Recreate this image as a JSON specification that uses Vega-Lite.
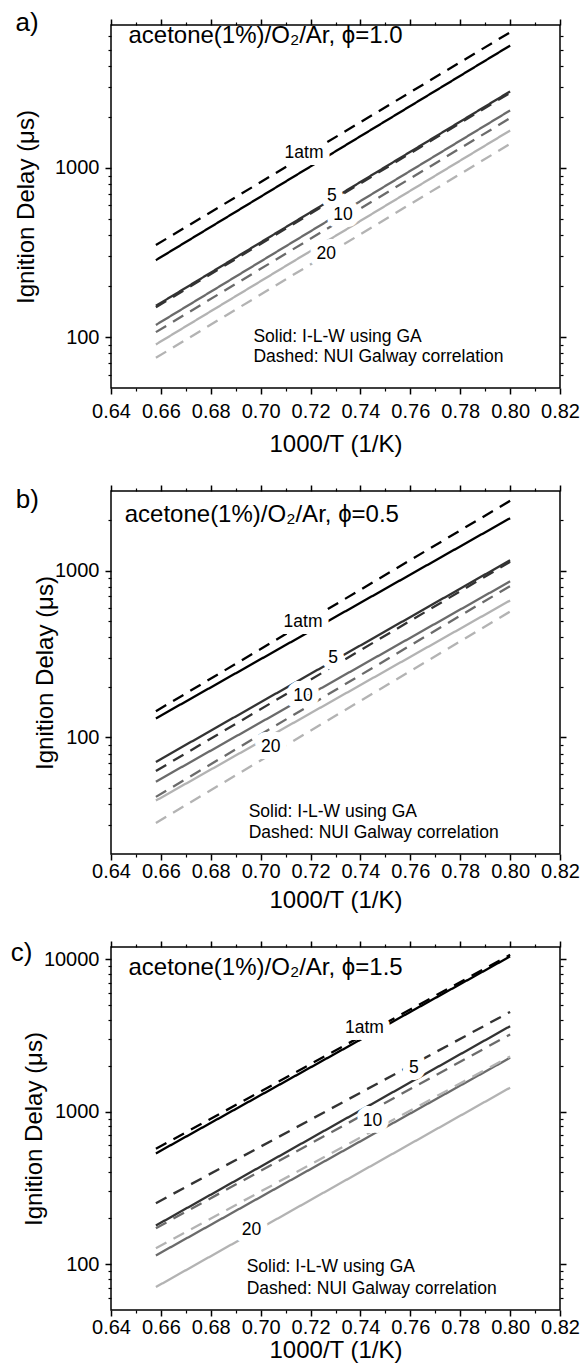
{
  "$schema": "https://vega.github.io/schema/vega-lite/v6.json",
  "padding": {"top": 9, "left": 9, "right": 0, "bottom": 0},
  "spacing": 26,
  "config": {
    "view": {"stroke": "black", "strokeWidth": 1.5},
    "axis": {"domain": false, "grid": false, "ticks": true, "tickColor": "black", "tickWidth": 1.5, "tickSize": 6,
             "labelFont": "Liberation Sans", "labelFontSize": 20, "labelColor": "black", "labelPadding": 6,
             "labelOverlap": false, "labelFlush": false, "labelBound": false,
             "titleFont": "Liberation Sans", "titleFontSize": 24, "titleFontWeight": "normal", "titleColor": "black"},
    "text": {"font": "Liberation Sans", "color": "black"}
  },
  "datasets": {
    "a_lines": [
      {"x":0.658,"y":350,"P":"1","model":"NUIG"},{"x":0.80,"y":6340,"P":"1","model":"NUIG"},
      {"x":0.658,"y":285,"P":"1","model":"ILW"},{"x":0.80,"y":5290,"P":"1","model":"ILW"},
      {"x":0.658,"y":153,"P":"5","model":"ILW"},{"x":0.80,"y":2835,"P":"5","model":"ILW"},
      {"x":0.658,"y":150,"P":"5","model":"NUIG"},{"x":0.80,"y":2780,"P":"5","model":"NUIG"},
      {"x":0.658,"y":118,"P":"10","model":"ILW"},{"x":0.80,"y":2188,"P":"10","model":"ILW"},
      {"x":0.658,"y":107,"P":"10","model":"NUIG"},{"x":0.80,"y":1970,"P":"10","model":"NUIG"},
      {"x":0.658,"y":90.5,"P":"20","model":"ILW"},{"x":0.80,"y":1665,"P":"20","model":"ILW"},
      {"x":0.658,"y":75.4,"P":"20","model":"NUIG"},{"x":0.80,"y":1388,"P":"20","model":"NUIG"}
    ],
    "a_labels": [{"x":0.7174,"y":1222,"text":"1atm"},{"x":0.7285,"y":682,"text":"5"},{"x":0.7330,"y":526,"text":"10"},{"x":0.7263,"y":309,"text":"20"}],
    "a_notes": [{"x":0.6971,"y":100,"text":"Solid: I-L-W using GA"},{"x":0.6971,"y":76.1,"text":"Dashed: NUI Galway correlation"}],
    "a_head": [{"x":0.647,"y":6010,"text":"acetone(1%)/O₂/Ar, ϕ=1.0"}],
    "a_tag": [{"x":0.6017,"y":7163,"text":"a)"}],
    "b_lines": [
      {"x":0.658,"y":143.5,"P":"1","model":"NUIG"},{"x":0.80,"y":2621,"P":"1","model":"NUIG"},
      {"x":0.658,"y":130,"P":"1","model":"ILW"},{"x":0.80,"y":2061,"P":"1","model":"ILW"},
      {"x":0.658,"y":71.3,"P":"5","model":"ILW"},{"x":0.80,"y":1154,"P":"5","model":"ILW"},
      {"x":0.658,"y":62.9,"P":"5","model":"NUIG"},{"x":0.80,"y":1128,"P":"5","model":"NUIG"},
      {"x":0.658,"y":54.3,"P":"10","model":"ILW"},{"x":0.80,"y":862,"P":"10","model":"ILW"},
      {"x":0.658,"y":44,"P":"10","model":"NUIG"},{"x":0.80,"y":808,"P":"10","model":"NUIG"},
      {"x":0.658,"y":41.8,"P":"20","model":"ILW"},{"x":0.80,"y":662,"P":"20","model":"ILW"},
      {"x":0.658,"y":30.7,"P":"20","model":"NUIG"},{"x":0.80,"y":568,"P":"20","model":"NUIG"}
    ],
    "b_labels": [{"x":0.717,"y":494,"text":"1atm"},{"x":0.729,"y":301,"text":"5"},{"x":0.717,"y":177,"text":"10"},{"x":0.704,"y":87,"text":"20"}],
    "b_notes": [{"x":0.6952,"y":35.6,"text":"Solid: I-L-W using GA"},{"x":0.6952,"y":26.7,"text":"Dashed: NUI Galway correlation"}],
    "b_head": [{"x":0.6455,"y":2158,"text":"acetone(1%)/O₂/Ar, ϕ=0.5"}],
    "b_tag": [{"x":0.6018,"y":2650,"text":"b)"}],
    "c_lines": [
      {"x":0.658,"y":532,"P":"1","model":"ILW"},{"x":0.80,"y":10410,"P":"1","model":"ILW"},
      {"x":0.658,"y":570,"P":"1","model":"NUIG"},{"x":0.80,"y":10670,"P":"1","model":"NUIG"},
      {"x":0.658,"y":251,"P":"5","model":"NUIG"},{"x":0.80,"y":4504,"P":"5","model":"NUIG"},
      {"x":0.658,"y":179,"P":"5","model":"ILW"},{"x":0.80,"y":3631,"P":"5","model":"ILW"},
      {"x":0.658,"y":172,"P":"10","model":"NUIG"},{"x":0.80,"y":3203,"P":"10","model":"NUIG"},
      {"x":0.658,"y":114,"P":"10","model":"ILW"},{"x":0.80,"y":2254,"P":"10","model":"ILW"},
      {"x":0.658,"y":127,"P":"20","model":"NUIG"},{"x":0.80,"y":2300,"P":"20","model":"NUIG"},
      {"x":0.658,"y":70.7,"P":"20","model":"ILW"},{"x":0.80,"y":1435,"P":"20","model":"ILW"}
    ],
    "c_labels": [{"x":0.7416,"y":3540,"text":"1atm"},{"x":0.7614,"y":1919,"text":"5"},{"x":0.7448,"y":869,"text":"10"},{"x":0.6963,"y":167.6,"text":"20"}],
    "c_notes": [{"x":0.6944,"y":95.6,"text":"Solid: I-L-W using GA"},{"x":0.6944,"y":69,"text":"Dashed: NUI Galway correlation"}],
    "c_head": [{"x":0.647,"y":8730,"text":"acetone(1%)/O₂/Ar, ϕ=1.5"}],
    "c_tag": [{"x":0.5998,"y":10950,"text":"c)"}]
  },
  "vconcat": [
    {
      "width": 449, "height": 363,
      "resolve": {"axis": {"x": "independent", "y": "independent"}},
      "layer": [
        {"data": {"name": "a_lines"},
         "mark": {"type": "line", "strokeWidth": 2.3},
         "encoding": {
           "x": {"field": "x", "type": "quantitative", "scale": {"domain": [0.64, 0.82], "nice": false, "zero": false},
                 "axis": {"orient": "bottom", "values": [0.64,0.66,0.68,0.70,0.72,0.74,0.76,0.78,0.80,0.82], "format": ".2f", "title": "1000/T (1/K)", "labelPadding": 7, "titleY": 56, "titleBaseline": "middle"}},
           "y": {"field": "y", "type": "quantitative", "scale": {"type": "log", "domain": [50, 7000], "nice": false},
                 "axis": {"orient": "left", "values": [100, 1000], "format": "d", "title": "Ignition Delay (μs)", "titleX": -85, "titleBaseline": "middle"}},
           "color": {"field": "P", "type": "nominal", "scale": {"domain": ["1","5","10","20"], "range": ["#000000","#333333","#6b6b6b","#b3b3b3"]}, "legend": null},
           "strokeDash": {"field": "model", "type": "nominal", "scale": {"domain": ["ILW","NUIG"], "range": [[1,0],[12,8]]}, "legend": null}
         }},
        {"data": {"name": "a_labels"},
         "mark": {"type": "text", "fontSize": 17.5, "align": "center", "baseline": "middle", "fill": "white", "stroke": "white", "strokeWidth": 14, "strokeJoin": "round"},
         "encoding": {
           "x": {"field": "x", "type": "quantitative", "scale": {"domain": [0.64, 0.82], "nice": false, "zero": false},
                 "axis": {"orient": "bottom", "values": [0.65,0.67,0.69,0.71,0.73,0.75,0.77,0.79,0.81], "labels": false, "title": null, "tickSize": 3, "tickWidth": 1.2}},
           "y": {"field": "y", "type": "quantitative", "scale": {"type": "log", "domain": [50, 7000], "nice": false},
                 "axis": {"orient": "left", "values": [60,70,80,90,200,300,400,500,600,700,800,900,2000,3000,4000,5000,6000], "labels": false, "title": null, "tickSize": 3, "tickWidth": 1.2}},
           "text": {"field": "text"}
         }},
        {"data": {"name": "a_labels"},
         "mark": {"type": "text", "fontSize": 17.5, "align": "center", "baseline": "middle"},
         "encoding": {
           "x": {"field": "x", "type": "quantitative", "scale": {"domain": [0.64, 0.82], "nice": false, "zero": false},
                 "axis": {"orient": "top", "values": [0.64,0.66,0.68,0.70,0.72,0.74,0.76,0.78,0.80,0.82], "labels": false, "title": null}},
           "y": {"field": "y", "type": "quantitative", "scale": {"type": "log", "domain": [50, 7000], "nice": false},
                 "axis": {"orient": "right", "values": [100, 1000], "labels": false, "title": null}},
           "text": {"field": "text"}
         }},
        {"data": {"name": "a_notes"},
         "mark": {"type": "text", "fontSize": 17.5, "align": "left", "baseline": "middle"},
         "encoding": {
           "x": {"field": "x", "type": "quantitative", "scale": {"domain": [0.64, 0.82], "nice": false, "zero": false},
                 "axis": {"orient": "top", "values": [0.65,0.67,0.69,0.71,0.73,0.75,0.77,0.79,0.81], "labels": false, "title": null, "tickSize": 3, "tickWidth": 1.2}},
           "y": {"field": "y", "type": "quantitative", "scale": {"type": "log", "domain": [50, 7000], "nice": false},
                 "axis": {"orient": "right", "values": [60,70,80,90,200,300,400,500,600,700,800,900,2000,3000,4000,5000,6000], "labels": false, "title": null, "tickSize": 3, "tickWidth": 1.2}},
           "text": {"field": "text"}
         }},
        {"data": {"name": "a_head"},
         "mark": {"type": "text", "fontSize": 24, "align": "left", "baseline": "middle"},
         "encoding": {
           "x": {"field": "x", "type": "quantitative", "scale": {"domain": [0.64, 0.82], "nice": false, "zero": false}, "axis": null},
           "y": {"field": "y", "type": "quantitative", "scale": {"type": "log", "domain": [50, 7000], "nice": false}, "axis": null},
           "text": {"field": "text"}
         }},
        {"data": {"name": "a_tag"},
         "mark": {"type": "text", "fontSize": 26, "align": "left", "baseline": "middle"},
         "encoding": {
           "x": {"field": "x", "type": "quantitative", "scale": {"domain": [0.64, 0.82], "nice": false, "zero": false}, "axis": null},
           "y": {"field": "y", "type": "quantitative", "scale": {"type": "log", "domain": [50, 7000], "nice": false}, "axis": null},
           "text": {"field": "text"}
         }}
      ]
    },
    {
      "width": 449, "height": 363,
      "resolve": {"axis": {"x": "independent", "y": "independent"}},
      "layer": [
        {"data": {"name": "b_lines"},
         "mark": {"type": "line", "strokeWidth": 2.3},
         "encoding": {
           "x": {"field": "x", "type": "quantitative", "scale": {"domain": [0.64, 0.82], "nice": false, "zero": false},
                 "axis": {"orient": "bottom", "values": [0.64,0.66,0.68,0.70,0.72,0.74,0.76,0.78,0.80,0.82], "format": ".2f", "title": "1000/T (1/K)", "labelPadding": 1, "titleY": 46, "titleBaseline": "middle"}},
           "y": {"field": "y", "type": "quantitative", "scale": {"type": "log", "domain": [20, 3000], "nice": false},
                 "axis": {"orient": "left", "values": [100, 1000], "format": "d", "title": "Ignition Delay (μs)", "titleX": -66, "titleBaseline": "middle"}},
           "color": {"field": "P", "type": "nominal", "scale": {"domain": ["1","5","10","20"], "range": ["#000000","#333333","#6b6b6b","#b3b3b3"]}, "legend": null},
           "strokeDash": {"field": "model", "type": "nominal", "scale": {"domain": ["ILW","NUIG"], "range": [[1,0],[12,8]]}, "legend": null}
         }},
        {"data": {"name": "b_labels"},
         "mark": {"type": "text", "fontSize": 17.5, "align": "center", "baseline": "middle", "fill": "white", "stroke": "white", "strokeWidth": 14, "strokeJoin": "round"},
         "encoding": {
           "x": {"field": "x", "type": "quantitative", "scale": {"domain": [0.64, 0.82], "nice": false, "zero": false},
                 "axis": {"orient": "bottom", "values": [0.65,0.67,0.69,0.71,0.73,0.75,0.77,0.79,0.81], "labels": false, "title": null, "tickSize": 3, "tickWidth": 1.2}},
           "y": {"field": "y", "type": "quantitative", "scale": {"type": "log", "domain": [20, 3000], "nice": false},
                 "axis": {"orient": "left", "values": [30,40,50,60,70,80,90,200,300,400,500,600,700,800,900,2000], "labels": false, "title": null, "tickSize": 3, "tickWidth": 1.2}},
           "text": {"field": "text"}
         }},
        {"data": {"name": "b_labels"},
         "mark": {"type": "text", "fontSize": 17.5, "align": "center", "baseline": "middle"},
         "encoding": {
           "x": {"field": "x", "type": "quantitative", "scale": {"domain": [0.64, 0.82], "nice": false, "zero": false},
                 "axis": {"orient": "top", "values": [0.64,0.66,0.68,0.70,0.72,0.74,0.76,0.78,0.80,0.82], "labels": false, "title": null}},
           "y": {"field": "y", "type": "quantitative", "scale": {"type": "log", "domain": [20, 3000], "nice": false},
                 "axis": {"orient": "right", "values": [100, 1000], "labels": false, "title": null}},
           "text": {"field": "text"}
         }},
        {"data": {"name": "b_notes"},
         "mark": {"type": "text", "fontSize": 17.5, "align": "left", "baseline": "middle"},
         "encoding": {
           "x": {"field": "x", "type": "quantitative", "scale": {"domain": [0.64, 0.82], "nice": false, "zero": false},
                 "axis": {"orient": "top", "values": [0.65,0.67,0.69,0.71,0.73,0.75,0.77,0.79,0.81], "labels": false, "title": null, "tickSize": 3, "tickWidth": 1.2}},
           "y": {"field": "y", "type": "quantitative", "scale": {"type": "log", "domain": [20, 3000], "nice": false},
                 "axis": {"orient": "right", "values": [30,40,50,60,70,80,90,200,300,400,500,600,700,800,900,2000], "labels": false, "title": null, "tickSize": 3, "tickWidth": 1.2}},
           "text": {"field": "text"}
         }},
        {"data": {"name": "b_head"},
         "mark": {"type": "text", "fontSize": 24, "align": "left", "baseline": "middle"},
         "encoding": {
           "x": {"field": "x", "type": "quantitative", "scale": {"domain": [0.64, 0.82], "nice": false, "zero": false}, "axis": null},
           "y": {"field": "y", "type": "quantitative", "scale": {"type": "log", "domain": [20, 3000], "nice": false}, "axis": null},
           "text": {"field": "text"}
         }},
        {"data": {"name": "b_tag"},
         "mark": {"type": "text", "fontSize": 26, "align": "left", "baseline": "middle"},
         "encoding": {
           "x": {"field": "x", "type": "quantitative", "scale": {"domain": [0.64, 0.82], "nice": false, "zero": false}, "axis": null},
           "y": {"field": "y", "type": "quantitative", "scale": {"type": "log", "domain": [20, 3000], "nice": false}, "axis": null},
           "text": {"field": "text"}
         }}
      ]
    },
    {
      "width": 449, "height": 363,
      "resolve": {"axis": {"x": "independent", "y": "independent"}},
      "layer": [
        {"data": {"name": "c_lines"},
         "mark": {"type": "line", "strokeWidth": 2.3},
         "encoding": {
           "x": {"field": "x", "type": "quantitative", "scale": {"domain": [0.64, 0.82], "nice": false, "zero": false},
                 "axis": {"orient": "bottom", "values": [0.64,0.66,0.68,0.70,0.72,0.74,0.76,0.78,0.80,0.82], "format": ".2f", "title": "1000/T (1/K)", "labelPadding": 1, "titleY": 40, "titleBaseline": "middle"}},
           "y": {"field": "y", "type": "quantitative", "scale": {"type": "log", "domain": [50, 12000], "nice": false},
                 "axis": {"orient": "left", "values": [100, 1000, 10000], "format": "d", "title": "Ignition Delay (μs)", "titleX": -77, "titleBaseline": "middle"}},
           "color": {"field": "P", "type": "nominal", "scale": {"domain": ["1","5","10","20"], "range": ["#000000","#333333","#6b6b6b","#b3b3b3"]}, "legend": null},
           "strokeDash": {"field": "model", "type": "nominal", "scale": {"domain": ["ILW","NUIG"], "range": [[1,0],[12,8]]}, "legend": null}
         }},
        {"data": {"name": "c_labels"},
         "mark": {"type": "text", "fontSize": 17.5, "align": "center", "baseline": "middle", "fill": "white", "stroke": "white", "strokeWidth": 14, "strokeJoin": "round"},
         "encoding": {
           "x": {"field": "x", "type": "quantitative", "scale": {"domain": [0.64, 0.82], "nice": false, "zero": false},
                 "axis": {"orient": "bottom", "values": [0.65,0.67,0.69,0.71,0.73,0.75,0.77,0.79,0.81], "labels": false, "title": null, "tickSize": 3, "tickWidth": 1.2}},
           "y": {"field": "y", "type": "quantitative", "scale": {"type": "log", "domain": [50, 12000], "nice": false},
                 "axis": {"orient": "left", "values": [60,70,80,90,200,300,400,500,600,700,800,900,2000,3000,4000,5000,6000,7000,8000,9000], "labels": false, "title": null, "tickSize": 3, "tickWidth": 1.2}},
           "text": {"field": "text"}
         }},
        {"data": {"name": "c_labels"},
         "mark": {"type": "text", "fontSize": 17.5, "align": "center", "baseline": "middle"},
         "encoding": {
           "x": {"field": "x", "type": "quantitative", "scale": {"domain": [0.64, 0.82], "nice": false, "zero": false},
                 "axis": {"orient": "top", "values": [0.64,0.66,0.68,0.70,0.72,0.74,0.76,0.78,0.80,0.82], "labels": false, "title": null}},
           "y": {"field": "y", "type": "quantitative", "scale": {"type": "log", "domain": [50, 12000], "nice": false},
                 "axis": {"orient": "right", "values": [100, 1000, 10000], "labels": false, "title": null}},
           "text": {"field": "text"}
         }},
        {"data": {"name": "c_notes"},
         "mark": {"type": "text", "fontSize": 17.5, "align": "left", "baseline": "middle"},
         "encoding": {
           "x": {"field": "x", "type": "quantitative", "scale": {"domain": [0.64, 0.82], "nice": false, "zero": false},
                 "axis": {"orient": "top", "values": [0.65,0.67,0.69,0.71,0.73,0.75,0.77,0.79,0.81], "labels": false, "title": null, "tickSize": 3, "tickWidth": 1.2}},
           "y": {"field": "y", "type": "quantitative", "scale": {"type": "log", "domain": [50, 12000], "nice": false},
                 "axis": {"orient": "right", "values": [60,70,80,90,200,300,400,500,600,700,800,900,2000,3000,4000,5000,6000,7000,8000,9000], "labels": false, "title": null, "tickSize": 3, "tickWidth": 1.2}},
           "text": {"field": "text"}
         }},
        {"data": {"name": "c_head"},
         "mark": {"type": "text", "fontSize": 24, "align": "left", "baseline": "middle"},
         "encoding": {
           "x": {"field": "x", "type": "quantitative", "scale": {"domain": [0.64, 0.82], "nice": false, "zero": false}, "axis": null},
           "y": {"field": "y", "type": "quantitative", "scale": {"type": "log", "domain": [50, 12000], "nice": false}, "axis": null},
           "text": {"field": "text"}
         }},
        {"data": {"name": "c_tag"},
         "mark": {"type": "text", "fontSize": 26, "align": "left", "baseline": "middle"},
         "encoding": {
           "x": {"field": "x", "type": "quantitative", "scale": {"domain": [0.64, 0.82], "nice": false, "zero": false}, "axis": null},
           "y": {"field": "y", "type": "quantitative", "scale": {"type": "log", "domain": [50, 12000], "nice": false}, "axis": null},
           "text": {"field": "text"}
         }}
      ]
    }
  ]
}
